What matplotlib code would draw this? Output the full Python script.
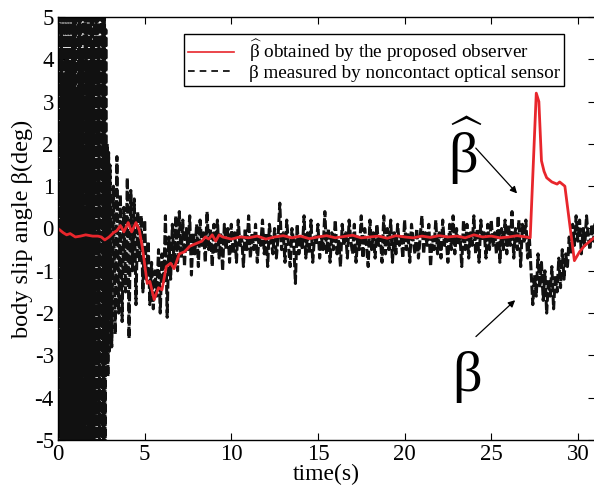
import numpy as np
import matplotlib
matplotlib.use("Agg")
import matplotlib.pyplot as plt
from matplotlib.lines import Line2D

plt.rcParams['font.family'] = ['Liberation Serif', 'DejaVu Serif']
plt.rcParams['mathtext.fontset'] = 'custom'
plt.rcParams['mathtext.rm'] = 'Liberation Serif'
plt.rcParams['mathtext.it'] = 'Liberation Serif:italic'
plt.rcParams['axes.unicode_minus'] = False

# ---- measured beta (noisy, dashed black) ----
meas_dt_early = 0.04
meas_early = [0.0, 5.8, -6.5, 6.2, -5.9, 4.8, -7.0, 6.5, -6.0, 3.5, -6.8, 5.5, -5.2, 4.2, -6.3,
              6.8, -5.6, 3.8, -7.2, 5.9, -6.1, 4.5, -5.4, 6.3, -6.9, 5.1, -5.8, 3.2, -6.4, 6.6,
              -5.3, 4.9, -7.1, 5.7, -6.2, 4.1, -5.7, 6.4, -6.6, 5.3, -5.5, 4.6, -7.3, 6.0, -5.9,
              3.9, -6.5, 6.9, -6.0, 5.2, -5.6, 4.4, -6.8, 6.1, -5.4, 5.0, -7.0, 6.7, -6.3, 4.3,
              -5.8, 5.6, -6.1, 6.2, -6.7, 5.4, -5.3, 6.0, -6.4, 4.7, -3.2, 2.0, -3.5, 1.8, -2.9]
meas_t0 = 3.0
meas_dt = 0.1
meas_late = [
    1.5, -2.8, 1.0, -2.5, 1.7, -2.0, 0.8, -2.2, 0.5, -1.5,
    1.2, -2.6, 0.9, -1.0, 0.7, -1.8, 0.4, -0.8, 0.3, -1.5,
    0.2, -1.2, -0.3, -1.8, -0.8, -1.9, -1.0, -1.6, -0.5, -2.0,
    -0.6, -1.3, 0.3, -2.1, -0.2, -1.2, 0.1, -0.9, 0.3, -1.0,
    0.4, -0.7, 0.2, -0.9, 0.0, -0.5, 0.3, -1.1, -0.1, -0.6,
    0.1, -0.9, 0.2, -0.4, -0.1, -0.8, 0.4, -0.5, 0.0, -0.9,
    0.1, -0.6, 0.2, -0.7, -0.1, -1.0, 0.1, -0.5, 0.0, -0.8,
    0.1, -0.6, -0.1, -0.8, 0.2, -0.4, -0.2, -0.9, 0.0, -0.5,
    0.3, -0.7, -0.1, -0.5, 0.1, -0.8, -0.2, -0.4, 0.2, -0.6,
    -0.1, -0.9, 0.1, -0.3, -0.6, 0.0, -0.7, -0.2, 0.6, -0.5,
    -0.1, -0.8, 0.2, -0.4, -0.9, 0.0, -0.3, -1.3, 0.1, -0.6,
    -0.2, -0.5, 0.3, -0.7, -0.1, -0.6, 0.2, -0.8, -0.2, -0.4,
    0.1, -0.7, -0.2, -0.5, 0.4, -0.6, 0.0, -0.8, -0.1, -0.5,
    0.2, -0.6, -0.3, -0.9, 0.1, -0.4, -0.1, -0.7, 0.2, -0.3,
    -0.6, 0.1, -0.8, -0.2, -0.5, 0.3, -0.7, 0.0, -0.4, -0.9,
    0.2, -0.5, -0.1, -0.7, 0.1, -0.4, -0.2, -0.8, 0.3, -0.6,
    0.0, -0.5, 0.2, -0.8, -0.1, -0.6, 0.1, -0.4, -0.2, -0.7,
    0.2, -0.5, -0.1, -0.8, 0.1, -0.3, -0.6, 0.0, -0.7, -0.2,
    0.3, -0.6, -0.1, -0.4, 0.1, -0.9, -0.2, -0.5, 0.2, -0.6,
    -0.1, -0.7, 0.2, -0.4, -0.2, -0.8, 0.1, -0.5, 0.3, -0.6,
    0.0, -0.4, -0.2, -0.9, 0.2, -0.5, 0.1, -0.7, -0.1, -0.4,
    0.3, -0.6, 0.0, -0.8, 0.2, -0.3, -0.1, -0.7, 0.1, -0.5,
    0.2, -0.4, -0.1, -0.6, 0.3, -0.8, 0.0, -0.5, 0.2, -0.6,
    0.1, -0.4, 0.4, -0.7, 0.0, -0.5, 0.2, -0.9, 0.1, -0.3,
    0.2, -0.7, -0.2, -1.0, -1.8, -1.1, -1.6, -0.6, -1.4, -0.8,
    -1.7, -1.0, -2.0, -1.2, -1.6, -0.9, -1.9, -1.1, -1.5, -0.7,
    -1.4, -0.5, -1.2, -0.6, -0.9, -0.2, -0.6, 0.1, -0.4, 0.3,
    -0.3, 0.2, -0.6, 0.0, -0.4, 0.3, -0.2, -0.5, 0.1, -0.3, 0.2]

# ---- estimated beta (red) ----
est_t = [0, 0.3, 0.5, 0.7, 1.0, 1.3, 1.6, 2.0, 2.3, 2.5, 2.7, 2.95, 3.2, 3.4, 3.6, 3.8, 4.05,
         4.25, 4.5, 4.7, 4.87, 5.15, 5.3, 5.55, 5.8, 6.0, 6.25, 6.5, 6.7, 7.0, 7.3, 7.6, 8.0,
         8.3, 8.5, 8.7, 8.9, 9.1, 9.3, 9.5, 10.0, 10.5, 11.0, 11.5, 12.0, 12.5, 13.0, 13.5,
         14.0, 14.5, 15.0, 15.5, 16.0, 16.5, 17.0, 17.5, 18.0, 18.5, 19.0, 19.5, 20.0, 20.5,
         21.0, 21.5, 22.0, 22.5, 23.0, 23.5, 24.0, 24.5, 25.0, 25.5, 26.0, 26.5, 27.0, 27.25,
         27.6, 27.75, 27.9, 28.05, 28.2, 28.5, 28.8, 28.95, 29.1, 29.25, 29.8, 30.1, 30.4,
         30.7, 31.0]
est_v = [0.0, -0.1, -0.15, -0.12, -0.2, -0.18, -0.15, -0.18, -0.18, -0.2, -0.27, -0.2, -0.1,
         -0.05, 0.07, -0.08, 0.14, -0.08, 0.14, -0.05, -0.45, -1.3, -1.25, -1.68, -1.4, -1.45,
         -0.9, -0.82, -0.95, -0.6, -0.55, -0.42, -0.35, -0.3, -0.2, -0.25, -0.15, -0.3, -0.15,
         -0.2, -0.25, -0.2, -0.22, -0.18, -0.25, -0.2, -0.17, -0.22, -0.18, -0.24, -0.2, -0.17,
         -0.22, -0.19, -0.16, -0.22, -0.2, -0.18, -0.23, -0.17, -0.2, -0.22, -0.18, -0.21,
         -0.17, -0.2, -0.18, -0.22, -0.15, -0.2, -0.18, -0.22, -0.2, -0.17, -0.2, -0.22,
         3.2, 3.0, 1.6, 1.35, 1.2, 1.1, 1.05, 1.1, 1.05, 1.0, -0.76, -0.55, -0.4, -0.3, -0.2]

t_early = np.arange(len(meas_early)) * meas_dt_early
t_late = meas_t0 + np.arange(len(meas_late)) * meas_dt
meas_t = np.concatenate([t_early, t_late])
meas_v = np.concatenate([meas_early, meas_late])

x_ticks = [0, 5, 10, 15, 20, 25, 30]
y_ticks = [-5, -4, -3, -2, -1, 0, 1, 2, 3, 4, 5]

fig = plt.figure(figsize=(5.94, 4.86), dpi=100)
ax = fig.add_axes([58/594, 1-440/486, 1.002-58/594, (440-17)/486])

ax.plot(meas_t, meas_v, color='#111111', lw=2.2, linestyle=(0, (3, 1.0)))
ax.plot(est_t, est_v, color='#e8262c', lw=2.0)

ax.set_xlim(0, 31)
ax.set_ylim(-5, 5)
ax.set_xticks(x_ticks)
ax.set_yticks(y_ticks)
ax.tick_params(direction='in', top=True, right=True, labelsize=16.5, length=5, width=0.8, pad=3)
for s in ax.spines.values():
    s.set_linewidth(1.0)
ax.set_xlabel('time(s)', fontsize=17, labelpad=-1)
ax.set_ylabel('body slip angle β(deg)', fontsize=17.5, labelpad=1)

handles = [Line2D([], [], color='#e8262c', lw=1.2),
           Line2D([], [], color='black', lw=1.2, linestyle=(0, (4, 3)))]
labels = [r'$\widehat{\mathrm{\beta}}$ obtained by the proposed observer',
          'β measured by noncontact optical sensor']
leg = ax.legend(handles, labels, loc='upper right', bbox_to_anchor=(564/594, 1-34/486),
                bbox_transform=fig.transFigure, fontsize=13.8, frameon=True, fancybox=False,
                framealpha=1, edgecolor='black', borderpad=0.2, labelspacing=0.0,
                handlelength=2.4, handletextpad=0.8, borderaxespad=0)
leg.get_frame().set_linewidth(1.0)

ax.text(23.5, 1.85, r'$\widehat{\mathrm{\beta}}$', fontsize=42, ha='center', va='center')
ax.text(23.6, -3.5, 'β', fontsize=42, ha='center', va='center')
ax.annotate('', xy=(26.6, 0.78), xytext=(24.0, 1.95),
            arrowprops=dict(arrowstyle='-|>', color='black', lw=0.9, mutation_scale=10))
ax.annotate('', xy=(26.5, -1.65), xytext=(24.0, -2.6),
            arrowprops=dict(arrowstyle='-|>', color='black', lw=0.9, mutation_scale=10))

fig.savefig('out.png', dpi=100)
